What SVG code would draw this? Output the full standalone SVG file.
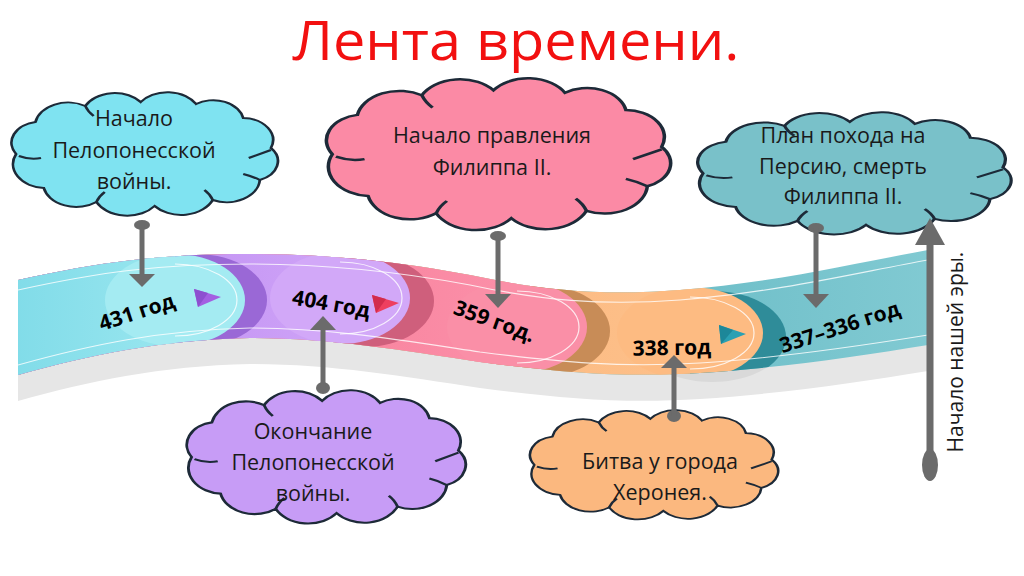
<svg xmlns="http://www.w3.org/2000/svg" width="1024" height="576" viewBox="0 0 1024 576">
<style>
.cloud{stroke:#1d2a38;stroke-width:2;vector-effect:non-scaling-stroke}
.inner{fill:none;stroke:#1d2a38;stroke-width:2;vector-effect:non-scaling-stroke}
.ct{font-family:"Open Sans","Liberation Sans",sans-serif;font-size:21.5px;fill:#1a1a1a;text-anchor:middle}
.yr{font-family:"Open Sans","Liberation Sans",sans-serif;font-size:21px;font-weight:bold;fill:#000;text-anchor:middle}
.con{stroke:#6b6b6b;stroke-width:5;fill:none}
.head{fill:#6b6b6b}
.hl{fill:none;stroke:#ffffff;stroke-width:1.2;opacity:0.8}
</style>
<defs>
<path id="cloudShape" d="M8,62 A21,21 0 0 1 22,30 A24,24 0 0 1 58,14 A24,24 0 0 1 98,10 A24,24 0 0 1 138,12 A22,22 0 0 1 172,26 A22,22 0 0 1 192,56 A20,20 0 0 1 184,88 A24,24 0 0 1 150,108 A25,25 0 0 1 108,114 A25,25 0 0 1 66,110 A24,24 0 0 1 28,96 A24,24 0 0 1 8,62 Z"/>
<path id="cloudInner" d="M10,64 Q18,68 26,66 M58,14 Q60,20 64,24 M192,58 Q184,62 176,66 M150,108 Q148,102 144,98 M66,110 Q68,104 72,100 M184,88 Q178,84 172,82"/>
<clipPath id="ribClip">
<path id="ribbonPath" d="M18,280 C100,262 160,254 250,254 C330,254 400,262 470,275 C540,290 600,296 680,290 C780,282 860,262 928,250 L928,345 C860,356 780,368 700,373 C620,378 560,372 480,362 C400,350 330,338 250,338 C160,340 90,355 18,375 Z"/>
</clipPath>
<linearGradient id="gTeal" x1="0" y1="0" x2="1" y2="0">
<stop offset="0" stop-color="#3b9fad"/><stop offset="1" stop-color="#86cdd5"/>
</linearGradient>
<linearGradient id="gCyan" x1="0" y1="0" x2="1" y2="0">
<stop offset="0" stop-color="#7fdbe8"/><stop offset="1" stop-color="#99e6ef"/>
</linearGradient>
<linearGradient id="gPurple" x1="0" y1="0" x2="1" y2="0">
<stop offset="0" stop-color="#b682f0"/><stop offset="1" stop-color="#cfa4f7"/>
</linearGradient>
<linearGradient id="gPink" x1="0" y1="0" x2="1" y2="0">
<stop offset="0" stop-color="#f46d8b"/><stop offset="1" stop-color="#fb90a9"/>
</linearGradient>
<linearGradient id="gOrange" x1="0" y1="0" x2="1" y2="0">
<stop offset="0" stop-color="#f9ac6e"/><stop offset="1" stop-color="#fdc08a"/>
</linearGradient>
</defs>
<rect width="1024" height="576" fill="#ffffff"/>
<text x="516" y="60" font-family="'Open Sans','Liberation Sans',sans-serif" font-size="55" fill="#f21010" text-anchor="middle" textLength="447" lengthAdjust="spacingAndGlyphs">Лента времени.</text>

<g id="ribbon">
<use href="#ribbonPath" transform="translate(0,26)" fill="#e6e6e6"/>
<ellipse cx="712" cy="336" rx="75" ry="46" fill="#d9d9d9"/>
<g clip-path="url(#ribClip)">
<rect x="0" y="200" width="1000" height="220" fill="url(#gTeal)"/>
<ellipse cx="713" cy="337" rx="73" ry="46" fill="#2f8c99"/>
<rect x="0" y="200" width="690" height="220" fill="url(#gOrange)"/>
<ellipse cx="690" cy="333" rx="73" ry="46" fill="#fdbb82"/>
<ellipse cx="540" cy="331" rx="70" ry="46" fill="#c88c57"/>
<rect x="0" y="200" width="517" height="220" fill="url(#gPink)"/>
<ellipse cx="517" cy="327" rx="70" ry="46" fill="#fa8fa7"/>
<ellipse cx="364" cy="301" rx="70" ry="46" fill="#cf5f7c"/>
<rect x="0" y="200" width="340" height="220" fill="url(#gPurple)"/>
<ellipse cx="340" cy="298" rx="70" ry="46" fill="#d2a8f8"/>
<ellipse cx="197" cy="300" rx="70" ry="46" fill="#9a68d6"/>
<rect x="0" y="200" width="175" height="220" fill="url(#gCyan)"/>
<ellipse cx="175" cy="300" rx="70" ry="46" fill="#a4ebf2"/>
<path class="hl" d="M175,264 A62,36 0 0 1 175,336"/>
<path class="hl" d="M340,262 A62,36 0 0 1 340,334"/>
<path class="hl" d="M517,291 A62,36 0 0 1 517,363"/>
<path class="hl" d="M690,297 A64,36 0 0 1 690,369"/>
<path class="hl" d="M18,290 C100,272 160,264 250,264 C330,264 400,272 470,285 C540,300 600,306 680,300 C780,292 860,272 928,260"/>
<path class="hl" d="M18,365 C90,345 160,330 250,328 C330,328 400,340 480,352 C560,362 620,368 700,363 C780,358 860,346 928,335"/>
</g>
</g>

<g id="cloud-431">
<g transform="translate(5,92) scale(1.385,1.0)"><use href="#cloudShape" class="cloud" fill="#7fe3f1"/><use href="#cloudInner" class="inner"/></g>
<text class="ct" x="134" y="126">Начало</text>
<text class="ct" x="134" y="158">Пелопонесской</text>
<text class="ct" x="134" y="189">войны.</text>
</g>
<g id="cloud-359">
<g transform="translate(318,78) scale(1.79,1.23)"><use href="#cloudShape" class="cloud" fill="#fb8aa5"/><use href="#cloudInner" class="inner"/></g>
<text class="ct" x="492" y="143">Начало правления</text>
<text class="ct" x="492" y="175">Филиппа II.</text>
</g>
<g id="cloud-337">
<g transform="translate(690,112) scale(1.63,0.99)"><use href="#cloudShape" class="cloud" fill="#79c1c9"/><use href="#cloudInner" class="inner"/></g>
<text class="ct" x="843" y="143">План похода на</text>
<text class="ct" x="843" y="174">Персию, смерть</text>
<text class="ct" x="843" y="204">Филиппа II.</text>
</g>
<g id="cloud-404">
<g transform="translate(180,390) scale(1.45,1.08)"><use href="#cloudShape" class="cloud" fill="#c79cf6"/><use href="#cloudInner" class="inner"/></g>
<text class="ct" x="313" y="439">Окончание</text>
<text class="ct" x="313" y="470">Пелопонесской</text>
<text class="ct" x="313" y="501">войны.</text>
</g>
<g id="cloud-338">
<g transform="translate(524,410) scale(1.29,0.885)"><use href="#cloudShape" class="cloud" fill="#fbb87f"/><use href="#cloudInner" class="inner"/></g>
<text class="ct" x="660" y="469">Битва у города</text>
<text class="ct" x="660" y="500">Херонея.</text>
</g>

<g id="markers">
<polygon points="194,289 221,297 198,307" fill="#a35fe2"/>
<polygon points="194,289 208,293 198,307" fill="#8d4fd0"/>
<polygon points="372,295 399,303 376,313" fill="#ee3f5f"/>
<polygon points="372,295 386,299 376,313" fill="#d22c4c"/>
<polygon points="719,325 746,334 721,344" fill="#2aa0b3"/>
<polygon points="719,325 733,330 721,344" fill="#1d8799"/>
</g>

<g id="labels">
<text class="yr" transform="translate(139,319) rotate(-18)">431 год</text>
<text class="yr" transform="translate(330,311) rotate(10)">404 год</text>
<text class="yr" transform="translate(492,328) rotate(20)">359 год.</text>
<text class="yr" transform="translate(672,355) rotate(-1)">338 год</text>
<text class="yr" transform="translate(842,334) rotate(-18)">337–336 год</text>
</g>

<g id="connectors">
<ellipse cx="142" cy="225" rx="8" ry="5" class="head"/>
<line class="con" x1="142" y1="225" x2="142" y2="276"/>
<polygon class="head" points="129,274 155,274 142,287"/>

<ellipse cx="323" cy="388" rx="7" ry="6" class="head"/>
<line class="con" x1="323" y1="388" x2="323" y2="328"/>
<polygon class="head" points="310,330 336,330 323,316"/>

<ellipse cx="498" cy="236" rx="8" ry="5" class="head"/>
<line class="con" x1="498" y1="236" x2="498" y2="296"/>
<polygon class="head" points="485,294 511,294 498,308"/>

<ellipse cx="674" cy="416" rx="7" ry="6" class="head"/>
<line class="con" x1="674" y1="416" x2="674" y2="366"/>
<polygon class="head" points="661,368 687,368 674,355"/>

<ellipse cx="816" cy="228" rx="8" ry="5" class="head"/>
<line class="con" x1="816" y1="228" x2="816" y2="296"/>
<polygon class="head" points="803,294 829,294 816,308"/>

<line class="con" style="stroke-width:7" x1="930" y1="242" x2="930" y2="462"/>
<polygon class="head" points="915,245 930,218 945,245"/>
<ellipse cx="930" cy="465" rx="8" ry="16" class="head"/>
</g>
<text transform="translate(963,352) rotate(-90)" font-family="'Open Sans','Liberation Sans',sans-serif" font-size="21" fill="#1a1a1a" text-anchor="middle">Начало нашей эры.</text>
</svg>
